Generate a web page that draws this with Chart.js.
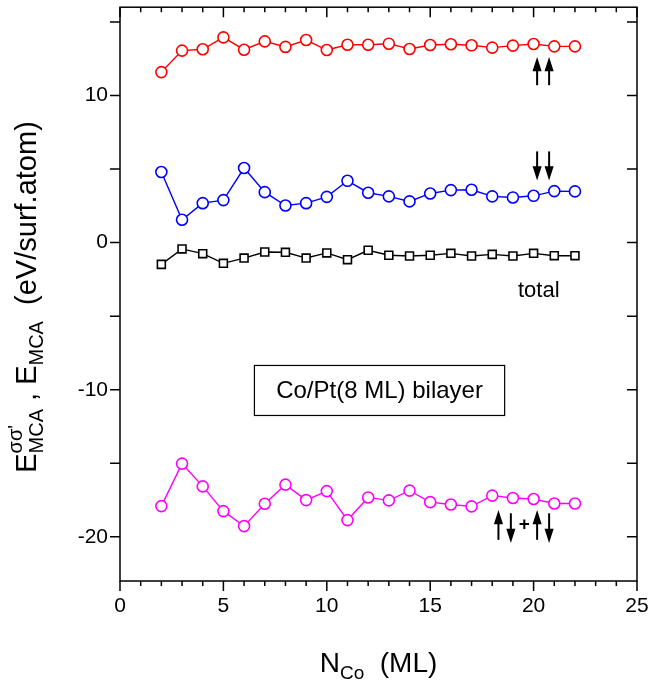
<!DOCTYPE html>
<html>
<head>
<meta charset="utf-8">
<script src="https://cdn.jsdelivr.net/npm/chart.js@4.4.1/dist/chart.umd.min.js"></script>
<style>
  html, body { margin: 0; padding: 0; background: #fff; }
  #wrap { width: 648px; height: 683px; }
</style>
</head>
<body>
<div id="wrap"><canvas id="chart" width="648" height="683"></canvas></div>
<script>
// N_Co (ML)
const nCo = [2, 3, 4, 5, 6, 7, 8, 9, 10, 11, 12, 13, 14, 15, 16, 17, 18, 19, 20, 21, 22];

// up-up channel (red)
const upUp = [11.59, 13.05, 13.14, 13.95, 13.11, 13.68, 13.30, 13.77, 13.09, 13.45, 13.45,
              13.52, 13.16, 13.43, 13.48, 13.41, 13.25, 13.39, 13.50, 13.34, 13.34];
// down-down channel (blue)
const dnDn = [4.80, 1.55, 2.68, 2.89, 5.07, 3.43, 2.52, 2.68, 3.11, 4.20, 3.39,
              3.14, 2.80, 3.34, 3.57, 3.59, 3.14, 3.07, 3.18, 3.50, 3.48];
// total (black squares)
const total = [-1.48, -0.43, -0.75, -1.41, -1.05, -0.64, -0.66, -1.05, -0.70, -1.16, -0.52,
               -0.86, -0.91, -0.86, -0.73, -0.91, -0.80, -0.91, -0.73, -0.89, -0.89];
// up-down + down-up (magenta)
const mixed = [-17.91, -15.02, -16.57, -18.25, -19.27, -17.75, -16.45, -17.50, -16.89, -18.86, -17.32,
               -17.52, -16.86, -17.64, -17.80, -17.93, -17.20, -17.36, -17.43, -17.73, -17.73];

const yTickLabels = [-20, -10, 0, 10];

// annotation anchors in data units: [x, yFrom, yTo]
const upArrows = [[20.17, 10.7, 12.4], [20.75, 10.7, 12.4]];
const downArrows = [[20.17, 6.2, 4.45], [20.75, 6.2, 4.45]];
const mixArrows = [[18.3, -20.2, -18.4], [18.9, -18.4, -20.2], [20.17, -20.2, -18.4], [20.75, -18.4, -20.2]];

const FONT = '"Liberation Sans", Arial, sans-serif';

const toXY = (ys) => nCo.map((x, i) => ({ x: x, y: ys[i] }));

const series = (label, ys, color, style) => ({
  label: label,
  data: toXY(ys),
  borderColor: color,
  backgroundColor: '#ffffff',
  pointBackgroundColor: '#ffffff',
  pointBorderColor: color,
  pointBorderWidth: 1.6,
  pointRadius: style === 'rect' ? 5.6 : 5.5,
  pointStyle: style,
  borderWidth: 1.4,
  tension: 0,
  showLine: true
});

function arrow(ctx, x, y1, y2) {
  const dir = y2 < y1 ? -1 : 1;
  ctx.beginPath();
  ctx.moveTo(x, y1);
  ctx.lineTo(x, y2 - dir * 4);
  ctx.stroke();
  ctx.beginPath();
  ctx.moveTo(x - 3.2, y2 - dir * 10);
  ctx.lineTo(x, y2);
  ctx.lineTo(x + 3.2, y2 - dir * 10);
  ctx.closePath();
  ctx.fill();
  ctx.stroke();
}

const decor = {
  id: 'decor',
  afterDraw(chart) {
    const ctx = chart.ctx;
    const a = chart.chartArea;
    const xs = chart.scales.x, ys = chart.scales.y;
    ctx.save();
    ctx.strokeStyle = '#000';
    ctx.fillStyle = '#000';
    ctx.lineWidth = 1.5;
    ctx.strokeRect(a.left, a.top, a.right - a.left, a.bottom - a.top);

    // x ticks
    for (let v = 0; v <= 25; v++) {
      const px = xs.getPixelForValue(v);
      const len = v % 5 === 0 ? 10 : 5;
      ctx.beginPath();
      ctx.moveTo(px, a.bottom); ctx.lineTo(px, a.bottom + len);
      ctx.moveTo(px, a.top); ctx.lineTo(px, a.top + len);
      ctx.stroke();
    }
    // y ticks
    for (let v = -20; v <= 15; v += 5) {
      const py = ys.getPixelForValue(v);
      ctx.beginPath();
      ctx.moveTo(a.left - 10, py); ctx.lineTo(a.left, py);
      ctx.moveTo(a.right - 10, py); ctx.lineTo(a.right, py);
      ctx.stroke();
    }

    // arrows
    ctx.lineWidth = 2;
    [...upArrows, ...downArrows, ...mixArrows].forEach(([x, y1, y2]) => {
      arrow(ctx, xs.getPixelForValue(x), ys.getPixelForValue(y1), ys.getPixelForValue(y2));
    });
    ctx.font = 'bold 19px ' + FONT;
    ctx.textAlign = 'center';
    ctx.textBaseline = 'middle';
    ctx.fillText('+', xs.getPixelForValue(19.55), ys.getPixelForValue(-19.2));

    // "total"
    ctx.font = '22px ' + FONT;
    ctx.fillText('total', xs.getPixelForValue(20.25), ys.getPixelForValue(-3.3));

    // label box
    ctx.lineWidth = 1.2;
    const bx1 = xs.getPixelForValue(6.5), bx2 = xs.getPixelForValue(18.6);
    const by1 = ys.getPixelForValue(-8.35), by2 = ys.getPixelForValue(-11.75);
    ctx.strokeRect(bx1, by1, bx2 - bx1, by2 - by1);
    ctx.font = '24px ' + FONT;
    ctx.fillText('Co/Pt(8 ML) bilayer', (bx1 + bx2) / 2, (by1 + by2) / 2 + 1);

    // x title: N_Co (ML)
    ctx.textAlign = 'left';
    ctx.textBaseline = 'alphabetic';
    let big = '28px ' + FONT, small = '19px ' + FONT;
    ctx.font = big; const wN = ctx.measureText('N').width;
    ctx.font = small; const wCo = ctx.measureText('Co').width;
    ctx.font = big; const wRest = ctx.measureText('  (ML)').width;
    let x0 = (a.left + a.right) / 2 - (wN + wCo + wRest) / 2;
    const yb = 672;
    ctx.font = big; ctx.fillText('N', x0, yb); x0 += wN;
    ctx.font = small; ctx.fillText('Co', x0, yb + 7); x0 += wCo;
    ctx.font = big; ctx.fillText('  (ML)', x0, yb);

    // y title (rotated)
    big = '29px ' + FONT; small = '20px ' + FONT;
    ctx.save();
    ctx.translate(36, 297);
    ctx.rotate(-Math.PI / 2);
    ctx.font = big; const wE = ctx.measureText('E').width;
    ctx.font = small; const wMCA = ctx.measureText('MCA').width;
    const wSig = ctx.measureText("σσ'").width;
    ctx.font = big; const wComma = ctx.measureText(' , E').width;
    const wUnit = ctx.measureText('  (eV/surf.atom)').width;
    const total_w = wE + Math.max(wMCA, wSig) + wComma + wMCA + wUnit;
    let t = -total_w / 2;
    ctx.font = big; ctx.fillText('E', t, 0); t += wE;
    ctx.font = small;
    ctx.fillText('MCA', t, 7);
    ctx.fillText("σσ'", t, -14);
    t += Math.max(wMCA, wSig);
    ctx.font = big; ctx.fillText(' , E', t, 0); t += wComma;
    ctx.font = small; ctx.fillText('MCA', t, 7); t += wMCA;
    ctx.font = big; ctx.fillText('  (eV/surf.atom)', t, 0);
    ctx.restore();

    ctx.restore();
  }
};

new Chart(document.getElementById('chart').getContext('2d'), {
  type: 'scatter',
  data: {
    datasets: [
      series('↑↑', upUp, '#ff0000', 'circle'),
      series('↓↓', dnDn, '#0000ff', 'circle'),
      series('total', total, '#000000', 'rect'),
      series('↑↓+↓↑', mixed, '#ff00ff', 'circle')
    ]
  },
  options: {
    responsive: false,
    animation: false,
    layout: { padding: { left: 0, right: 11, top: 6, bottom: 0 } },
    plugins: { legend: { display: false }, tooltip: { enabled: false } },
    scales: {
      x: {
        type: 'linear', min: 0, max: 25,
        grid: { display: false, drawTicks: false },
        border: { display: false },
        ticks: { stepSize: 5, padding: 13, color: '#000', font: { family: FONT, size: 21 } },
        afterFit: (s) => { s.height = 102; s.paddingLeft = 0; s.paddingRight = 0; }
      },
      y: {
        type: 'linear', min: -23, max: 16,
        grid: { display: false, drawTicks: false },
        border: { display: false },
        afterBuildTicks: (s) => { s.ticks = yTickLabels.map(v => ({ value: v })); },
        ticks: { padding: 12, color: '#000', font: { family: FONT, size: 21 } },
        afterFit: (s) => { s.width = 120; s.paddingTop = 0; s.paddingBottom = 0; }
      }
    }
  },
  plugins: [decor]
});
</script>
</body>
</html>
